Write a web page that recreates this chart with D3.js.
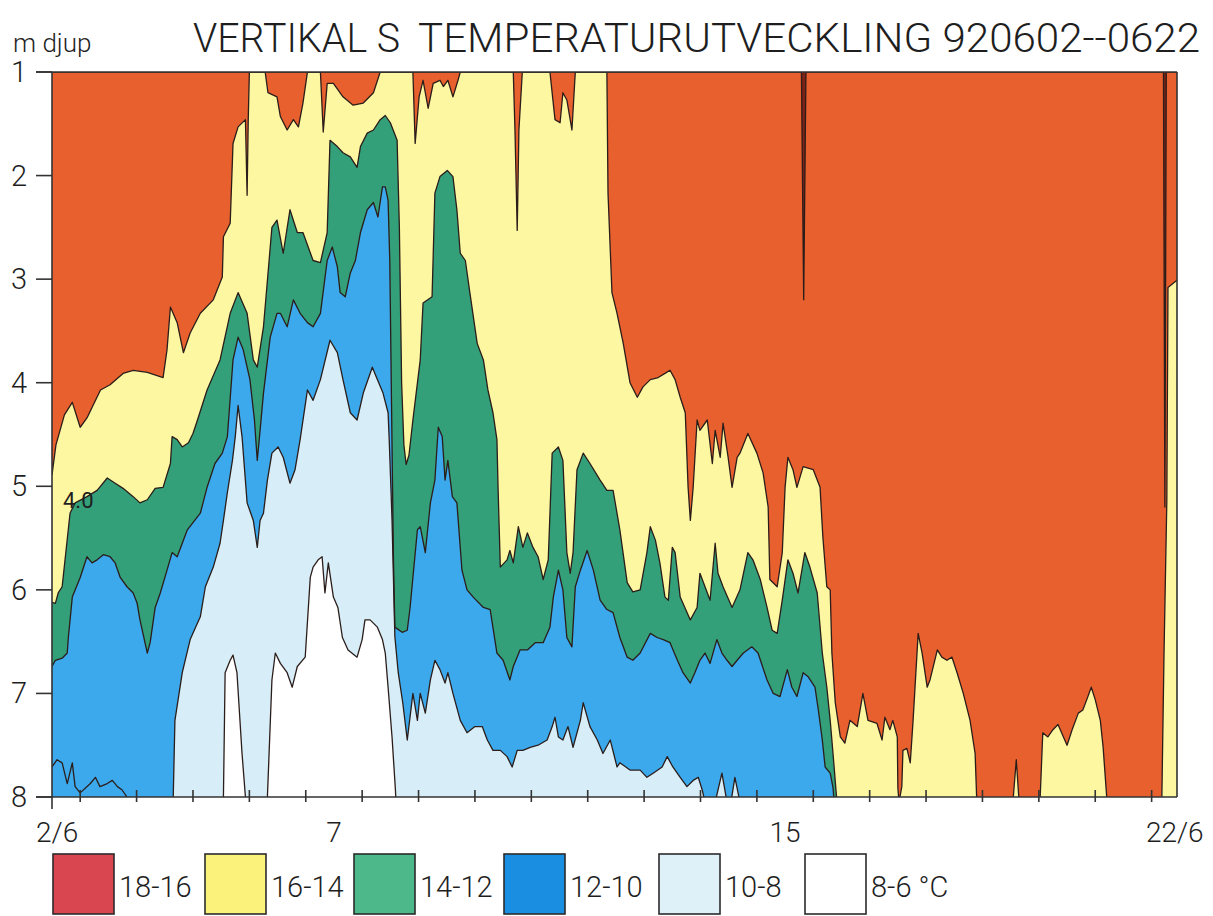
<!DOCTYPE html>
<html>
<head>
  <meta charset="UTF-8">
  <style>
    body { margin: 0; background: #fff; }
    svg text {
      font-family: Roboto, "Liberation Sans Narrow", "DejaVu Sans", sans-serif;
      font-weight: 300;
      fill: #1e1e1e;
    }
    .iso { fill: none; stroke: #2b1d1a; stroke-width: 1.3px; stroke-linejoin: round; }
    .frame { stroke: #333; stroke-width: 1.6px; fill: none; }
  </style>
</head>
<body>
<svg></svg>
<script src="https://d3js.org/d3.v7.min.js"></script>
<script>

// isotherm depths [day in June, depth m]
let iso18 = [[2.50,1.00],[15.79,1.00],[15.83,3.20],[15.87,1.00],[22.21,1.00],[22.235,5.2],[22.26,1.00],[22.45,1.00]];

let iso16 = [[2.50,4.89],[2.57,4.60],[2.72,4.31],[2.86,4.19],[3.00,4.43],[3.12,4.34],[3.36,4.07],[3.53,4.02],[3.76,3.91],[3.94,3.88],[4.19,3.90],[4.47,3.95],[4.54,3.68],[4.60,3.27],[4.72,3.42],[4.83,3.71],[4.95,3.52],[5.13,3.33],[5.36,3.20],[5.52,2.98],[5.54,2.59],[5.66,2.46],[5.71,1.69],[5.80,1.53],[5.93,1.46],[5.96,2.19],[5.98,1.46],[6.00,1.00],[6.28,1.00],[6.33,1.20],[6.49,1.24],[6.55,1.43],[6.67,1.56],[6.78,1.46],[6.87,1.53],[6.95,1.30],[7.03,1.00],[7.26,1.00],[7.31,1.58],[7.38,1.11],[7.49,1.11],[7.66,1.24],[7.84,1.32],[8.02,1.30],[8.20,1.20],[8.32,1.00],[8.90,1.00],[8.94,1.69],[9.01,1.24],[9.08,1.08],[9.17,1.35],[9.26,1.11],[9.38,1.08],[9.44,1.14],[9.52,1.08],[9.61,1.24],[9.70,1.08],[9.74,1.00],[10.68,1.00],[10.71,1.56],[10.75,2.53],[10.78,1.56],[10.84,1.00],[11.33,1.00],[11.42,1.46],[11.51,1.49],[11.56,1.20],[11.63,1.27],[11.72,1.56],[11.78,1.00],[12.34,1.00],[12.36,2.17],[12.43,3.13],[12.52,3.33],[12.63,3.62],[12.75,4.00],[12.88,4.14],[12.98,4.04],[13.11,3.97],[13.25,3.95],[13.37,3.91],[13.46,3.88],[13.55,3.97],[13.64,4.14],[13.73,4.29],[13.78,5.01],[13.82,5.33],[13.87,5.01],[13.94,4.36],[13.99,4.46],[14.12,4.36],[14.21,4.78],[14.26,4.46],[14.35,4.72],[14.40,4.39],[14.49,4.72],[14.56,5.01],[14.65,4.72],[14.70,4.68],[14.84,4.49],[15.00,4.68],[15.11,4.87],[15.20,5.20],[15.23,5.90],[15.36,5.97],[15.45,5.64],[15.50,5.01],[15.55,4.72],[15.64,4.84],[15.71,5.01],[15.82,4.81],[16.00,4.84],[16.12,5.01],[16.17,5.49],[16.24,5.97],[16.30,6.00],[16.33,6.61],[16.39,7.09],[16.48,7.42],[16.56,7.48],[16.65,7.26],[16.78,7.32],[16.88,7.00],[16.97,7.26],[17.13,7.29],[17.22,7.45],[17.27,7.23],[17.36,7.35],[17.41,7.26],[17.49,7.42],[17.50,7.91],[17.52,8.05],[17.57,7.90],[17.59,7.55],[17.66,7.53],[17.72,7.67],[17.77,7.26],[17.86,6.42],[17.93,6.61],[18.02,6.94],[18.07,6.87],[18.20,6.58],[18.28,6.65],[18.37,6.68],[18.46,6.65],[18.55,6.80],[18.66,7.00],[18.78,7.26],[18.87,7.58],[18.90,8.05],[19.54,8.05],[19.60,7.64],[19.65,8.05],[20.02,8.05],[20.07,7.38],[20.16,7.42],[20.25,7.35],[20.34,7.30],[20.50,7.50],[20.59,7.35],[20.70,7.19],[20.78,7.16],[20.85,7.06],[20.93,6.94],[21.00,7.06],[21.09,7.26],[21.14,7.52],[21.21,8.05],[22.18,8.05],[22.22,6.61],[22.27,5.13],[22.29,3.08],[22.45,3.01]];

let iso14 = [[2.50,6.12],[2.56,6.13],[2.61,6.03],[2.68,5.97],[2.82,5.26],[2.91,5.16],[3.12,5.10],[3.30,5.04],[3.48,4.92],[3.62,4.97],[3.76,5.02],[3.94,5.10],[4.06,5.16],[4.19,5.13],[4.33,5.02],[4.47,5.01],[4.60,4.78],[4.63,4.52],[4.72,4.55],[4.81,4.62],[4.92,4.58],[5.00,4.49],[5.08,4.36],[5.25,4.07],[5.48,3.78],[5.66,3.33],[5.80,3.13],[5.96,3.33],[6.07,3.78],[6.14,3.85],[6.25,3.46],[6.40,2.50],[6.49,2.43],[6.60,2.75],[6.72,2.33],[6.85,2.55],[6.95,2.55],[7.13,2.82],[7.26,2.84],[7.38,2.55],[7.43,1.66],[7.56,1.72],[7.66,1.78],[7.79,1.82],[7.91,1.92],[7.97,1.72],[8.09,1.59],[8.20,1.56],[8.32,1.46],[8.41,1.42],[8.50,1.49],[8.62,1.66],[8.66,2.50],[8.70,4.00],[8.74,4.60],[8.78,4.79],[8.83,4.70],[8.90,4.36],[9.03,3.78],[9.08,3.23],[9.24,3.17],[9.29,2.17],[9.38,2.01],[9.51,1.95],[9.61,2.01],[9.68,2.33],[9.74,2.75],[9.83,2.82],[9.91,3.13],[10.04,3.62],[10.15,3.78],[10.23,4.07],[10.32,4.29],[10.39,4.55],[10.41,5.01],[10.45,5.78],[10.57,5.71],[10.62,5.62],[10.68,5.74],[10.77,5.39],[10.85,5.59],[10.93,5.45],[11.03,5.59],[11.12,5.68],[11.21,5.90],[11.30,5.71],[11.37,4.68],[11.48,4.62],[11.56,4.75],[11.63,5.64],[11.69,5.84],[11.74,5.64],[11.81,4.84],[11.92,4.68],[12.04,4.78],[12.22,4.94],[12.34,5.04],[12.45,5.04],[12.57,5.42],[12.70,5.93],[12.80,6.02],[12.93,6.00],[13.05,5.64],[13.11,5.39],[13.20,5.52],[13.28,5.74],[13.37,6.07],[13.43,6.10],[13.50,5.59],[13.55,5.64],[13.64,6.07],[13.82,6.29],[13.94,6.17],[13.99,5.84],[14.08,5.97],[14.17,6.10],[14.26,5.55],[14.31,5.84],[14.40,5.97],[14.56,6.17],[14.70,6.00],[14.84,5.64],[14.93,5.71],[15.06,5.90],[15.18,6.17],[15.27,6.39],[15.36,6.42],[15.45,6.10],[15.55,5.71],[15.64,5.84],[15.73,6.03],[15.85,5.64],[15.94,5.78],[16.07,6.03],[16.16,6.61],[16.24,6.94],[16.30,7.26],[16.35,7.58],[16.42,8.05],[22.45,8.05]];

let iso12 = [[2.50,6.74],[2.56,6.68],[2.68,6.66],[2.77,6.61],[2.79,6.46],[2.86,6.07],[3.00,5.88],[3.12,5.68],[3.21,5.74],[3.30,5.71],[3.41,5.66],[3.53,5.68],[3.62,5.74],[3.71,5.88],[3.83,5.97],[3.94,6.03],[4.01,6.13],[4.06,6.29],[4.19,6.61],[4.24,6.51],[4.33,6.17],[4.42,6.03],[4.54,5.81],[4.63,5.64],[4.72,5.68],[4.81,5.55],[4.90,5.42],[5.00,5.35],[5.13,5.26],[5.25,5.01],[5.39,4.78],[5.52,4.68],[5.61,4.52],[5.71,3.78],[5.80,3.56],[5.89,3.68],[6.01,3.97],[6.09,4.36],[6.14,4.75],[6.19,4.46],[6.25,4.10],[6.37,3.56],[6.49,3.33],[6.55,3.33],[6.67,3.46],[6.78,3.20],[6.90,3.33],[7.03,3.42],[7.13,3.46],[7.26,3.33],[7.38,2.82],[7.47,2.69],[7.56,2.88],[7.61,3.13],[7.70,3.17],[7.79,2.94],[7.88,2.82],[7.97,2.55],[8.09,2.33],[8.20,2.26],[8.28,2.40],[8.36,2.11],[8.41,2.11],[8.46,2.24],[8.49,2.82],[8.52,4.17],[8.555,5.71],[8.58,6.36],[8.71,6.41],[8.80,6.39],[8.85,6.17],[8.98,5.42],[9.03,5.39],[9.12,5.64],[9.21,5.16],[9.29,4.94],[9.35,4.43],[9.42,4.52],[9.47,4.94],[9.52,4.75],[9.60,5.10],[9.68,5.16],[9.77,5.81],[9.86,6.00],[9.97,6.07],[10.15,6.17],[10.27,6.19],[10.39,6.61],[10.50,6.68],[10.62,6.87],[10.68,6.74],[10.80,6.58],[10.93,6.58],[11.07,6.51],[11.21,6.51],[11.33,6.36],[11.39,6.07],[11.48,5.81],[11.56,6.00],[11.63,6.46],[11.72,6.55],[11.78,5.97],[11.87,5.81],[11.99,5.62],[12.10,5.81],[12.22,6.10],[12.34,6.19],[12.45,6.22],[12.57,6.46],[12.70,6.65],[12.80,6.68],[12.93,6.61],[13.11,6.42],[13.23,6.46],[13.34,6.48],[13.46,6.51],[13.59,6.68],[13.69,6.80],[13.82,6.90],[13.90,6.80],[13.99,6.68],[14.08,6.61],[14.17,6.71],[14.29,6.48],[14.38,6.61],[14.47,6.68],[14.56,6.74],[14.65,6.68],[14.76,6.61],[14.91,6.55],[15.02,6.61],[15.18,6.87],[15.29,7.00],[15.41,7.03],[15.54,6.77],[15.62,6.94],[15.71,7.03],[15.82,6.80],[15.91,6.84],[16.03,6.94],[16.09,7.16],[16.16,7.45],[16.21,7.71],[16.30,7.77],[16.35,7.91],[16.37,8.05],[22.45,8.05]];

let iso10 = [[2.50,8.05],[4.63,8.05],[4.65,8.00],[4.68,7.26],[4.81,6.80],[4.95,6.48],[5.13,6.26],[5.22,5.97],[5.36,5.78],[5.48,5.55],[5.54,5.33],[5.61,5.06],[5.70,4.75],[5.75,4.52],[5.80,4.22],[5.87,4.52],[5.96,5.16],[6.07,5.33],[6.14,5.59],[6.19,5.33],[6.25,5.26],[6.32,4.94],[6.40,4.68],[6.51,4.62],[6.60,4.72],[6.72,4.97],[6.81,4.84],[6.90,4.55],[7.03,4.07],[7.13,4.17],[7.26,3.97],[7.43,3.59],[7.56,3.71],[7.66,3.97],[7.79,4.29],[7.91,4.36],[8.02,4.10],[8.18,3.85],[8.27,3.97],[8.37,4.10],[8.46,4.29],[8.48,4.55],[8.53,5.33],[8.58,6.45],[8.64,6.80],[8.72,7.09],[8.80,7.45],[8.90,7.00],[8.98,7.26],[9.03,7.00],[9.12,7.19],[9.21,6.87],[9.29,6.68],[9.38,6.77],[9.47,6.90],[9.52,6.80],[9.61,7.00],[9.74,7.26],[9.86,7.38],[10.00,7.32],[10.13,7.32],[10.22,7.45],[10.32,7.55],[10.45,7.55],[10.57,7.61],[10.66,7.71],[10.75,7.55],[10.85,7.55],[10.98,7.52],[11.12,7.50],[11.28,7.45],[11.37,7.32],[11.42,7.23],[11.48,7.42],[11.56,7.45],[11.65,7.32],[11.74,7.52],[11.87,7.26],[11.92,7.09],[12.04,7.32],[12.17,7.45],[12.27,7.58],[12.40,7.45],[12.52,7.71],[12.57,7.67],[12.75,7.74],[12.93,7.74],[13.05,7.81],[13.16,7.77],[13.32,7.71],[13.41,7.61],[13.51,7.71],[13.64,7.81],[13.76,7.90],[13.87,7.84],[13.96,7.81],[14.03,7.93],[14.08,8.05],[14.26,8.05],[14.38,7.77],[14.47,8.05],[14.54,8.05],[14.61,7.81],[14.70,8.05],[22.45,8.05]];

let iso8 = [[2.50,8.05],[5.52,8.05],[5.54,8.00],[5.57,6.80],[5.66,6.68],[5.71,6.63],[5.78,6.80],[5.87,7.58],[5.93,8.00],[5.94,8.05],[6.30,8.05],[6.32,8.00],[6.40,6.87],[6.46,6.61],[6.55,6.71],[6.67,6.80],[6.76,6.94],[6.85,6.74],[6.99,6.65],[7.08,5.88],[7.13,5.78],[7.22,5.71],[7.29,5.68],[7.34,6.03],[7.40,5.74],[7.49,6.07],[7.57,6.17],[7.65,6.46],[7.75,6.58],[7.91,6.65],[8.00,6.48],[8.05,6.29],[8.14,6.29],[8.27,6.36],[8.36,6.48],[8.41,6.61],[8.46,6.94],[8.53,7.42],[8.59,7.93],[8.60,8.05],[22.45,8.05]];

// loose contour near the bottom, first days (no fill)
let bottomLine = [[2.50,7.71],[2.59,7.64],[2.68,7.67],[2.77,7.87],[2.86,7.67],[2.91,7.90],[3.00,7.96],[3.18,7.87],[3.27,7.81],[3.35,7.90],[3.48,7.87],[3.57,7.84],[3.66,7.90],[3.74,7.93],[3.83,8.00]];

let depthTicks = [1, 2, 3, 4, 5, 6, 7, 8];
let dayTicks = [3,4,5,6,7,8,9,10,11,12,13,14,15,16,17,18,19,20,21,22];
let dayLabels = ["2/6", "7", "15", "22/6"];
let dayLabelPos = [2.59, 7.5, 15.5, 22.41];

let legendLabels = ["18-16", "16-14", "14-12", "12-10", "10-8", "8-6 °C"];
let legendColors = ["#d9464f", "#fbf27c", "#4db98b", "#1a8fe2", "#dff1f8", "#ffffff"];

let width = 1213, height = 916;

let svg = d3.select("svg")
    .attr("width", width)
    .attr("height", height);

let x = d3.scaleLinear().domain([2.5, 22.45]).range([52, 1177]);
let y = d3.scaleLinear().domain([1, 8]).range([72, 797]);

svg.append("clipPath").attr("id", "plot")
  .append("rect")
    .attr("x", x(2.5)).attr("y", y(1))
    .attr("width", x(22.45) - x(2.5)).attr("height", y(8) - y(1));

let plot = svg.append("g").attr("clip-path", "url(#plot)");

plot.append("rect")
    .attr("x", x(2.5)).attr("y", y(1))
    .attr("width", x(22.45) - x(2.5)).attr("height", y(8) - y(1))
    .attr("fill", "#ffffff");

// painter order: coldest boundary first, each area from the surface down
let layers = [
  {data: iso8,  fill: "#d7eef8"},
  {data: iso10, fill: "#3ba9ec"},
  {data: iso12, fill: "#33a07a"},
  {data: iso14, fill: "#fcf7a0"},
  {data: iso16, fill: "#e9602f"},
  {data: iso18, fill: "#7c2216"}
];

let area = d3.area()
    .x(d => x(d[0]))
    .y0(y(0.9))
    .y1(d => y(d[1]));

let line = d3.line()
    .x(d => x(d[0]))
    .y(d => y(d[1]));

plot.selectAll("path.band")
  .data(layers)
  .enter()
  .append("path")
    .attr("class", "band")
    .attr("d", d => area(d.data))
    .attr("fill", d => d.fill);

plot.selectAll("path.iso")
  .data(layers.map(l => l.data).concat([bottomLine]))
  .enter()
  .append("path")
    .attr("class", "iso")
    .attr("d", d => line(d));

svg.append("text")
    .attr("x", 63).attr("y", 508)
    .style("font-size", "22px")
    .style("font-weight", "400")
    .text("4.0");

// frame
svg.append("line").attr("class", "frame")
    .attr("x1", 36).attr("x2", x(22.45)).attr("y1", y(1)).attr("y2", y(1));
svg.append("line").attr("class", "frame")
    .attr("x1", 36).attr("x2", x(22.45)).attr("y1", y(8)).attr("y2", y(8));
svg.append("line").attr("class", "frame")
    .attr("x1", x(2.5)).attr("x2", x(2.5)).attr("y1", y(1)).attr("y2", y(8) + 12);
svg.append("line").attr("class", "frame")
    .attr("x1", x(22.45)).attr("x2", x(22.45)).attr("y1", y(1)).attr("y2", y(8));

// depth axis
svg.selectAll("line.ytick")
  .data(depthTicks)
  .enter()
  .append("line")
    .attr("class", "frame")
    .attr("x1", 36).attr("x2", x(2.5))
    .attr("y1", d => y(d)).attr("y2", d => y(d));

svg.selectAll("text.ylab")
  .data(depthTicks)
  .enter()
  .append("text")
    .attr("x", 27)
    .attr("y", d => y(d) + 10)
    .attr("text-anchor", "end")
    .style("font-size", "29px")
    .text(d => d);

svg.append("text")
    .attr("x", 13).attr("y", 52)
    .style("font-size", "26px")
    .text("m djup");

// time axis
svg.selectAll("line.xtick")
  .data(dayTicks)
  .enter()
  .append("line")
    .attr("class", "frame")
    .attr("x1", d => x(d)).attr("x2", d => x(d))
    .attr("y1", y(8) - 7).attr("y2", y(8) + 5);

svg.selectAll("text.xlab")
  .data(dayLabels)
  .enter()
  .append("text")
    .attr("x", (d, i) => x(dayLabelPos[i]))
    .attr("y", 842)
    .attr("text-anchor", "middle")
    .style("font-size", "28px")
    .text(d => d);

// title
svg.append("text")
    .attr("x", 193).attr("y", 52)
    .attr("textLength", 207).attr("lengthAdjust", "spacingAndGlyphs")
    .style("font-size", "40px")
    .text("VERTIKAL S");
svg.append("text")
    .attr("x", 418).attr("y", 52)
    .attr("textLength", 782).attr("lengthAdjust", "spacingAndGlyphs")
    .style("font-size", "40px")
    .text("TEMPERATURUTVECKLING 920602--0622");

// legend
let legendX = [53, 205, 354, 504, 659, 805];
let legend = svg.append("g");
legend.selectAll("rect")
  .data(legendLabels)
  .enter()
  .append("rect")
    .attr("x", (d, i) => legendX[i])
    .attr("y", 854)
    .attr("width", 61).attr("height", 60)
    .attr("fill", (d, i) => legendColors[i])
    .attr("stroke", "#2b2b2b")
    .attr("stroke-width", 1.6);
legend.selectAll("text")
  .data(legendLabels)
  .enter()
  .append("text")
    .attr("x", (d, i) => legendX[i] + 66)
    .attr("y", 897)
    .style("font-size", "29px")
    .text(d => d);

</script>
</body>
</html>
